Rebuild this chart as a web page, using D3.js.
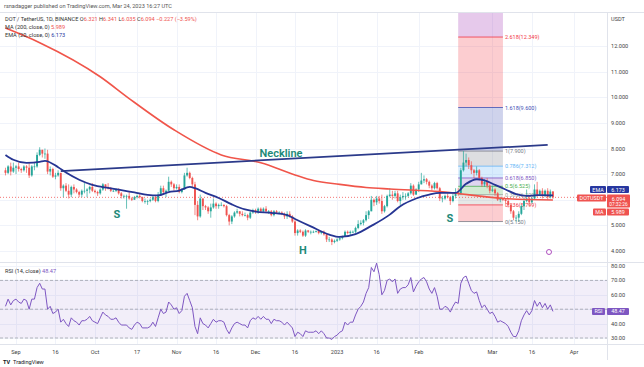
<!DOCTYPE html>
<html><head><meta charset="utf-8">
<script src="https://cdn.jsdelivr.net/npm/d3@7"></script>
<style>body{margin:0;background:#fff;} svg{display:block;font-family:Roboto,"Noto Sans",sans-serif;}</style>
</head><body><svg id="c" width="644" height="367"></svg>
<script>
// ---------------- DATA ----------------
const startDate = "2022-08-28";
const firstOpen = 7.15;
const closes = [7.05,7.30,7.10,7.25,
7.30,7.20,7.15,7.30,7.25,6.95,7.30,7.30,7.75,7.95,7.80,7.80,7.10,7.20,6.90,6.95,7.05,6.45,6.55,6.35,6.20,6.50,6.40,6.30,6.20,6.35,6.35,6.40,6.50,6.35,
6.30,6.25,6.40,6.60,6.50,6.45,6.35,6.35,6.40,6.25,6.15,6.15,6.15,6.05,6.00,6.10,6.15,6.10,5.95,5.95,5.95,6.00,6.10,5.95,6.20,6.45,6.30,6.35,6.70,6.60,6.45,
6.50,6.30,6.40,6.95,7.05,6.85,6.60,5.80,5.35,6.05,5.75,5.70,5.55,5.70,5.85,5.75,5.80,5.80,5.75,5.40,5.15,5.35,5.50,5.55,5.45,5.40,5.40,5.30,5.50,5.60,
5.55,5.65,5.55,5.65,5.55,5.55,5.40,5.55,5.50,5.50,5.45,5.35,5.45,5.35,5.15,4.70,4.80,4.75,4.60,4.80,4.75,4.75,4.75,4.78,4.70,4.75,4.65,4.45,4.45,4.35,4.40,
4.45,4.50,4.55,4.75,4.70,4.75,4.75,4.90,5.05,5.10,5.20,5.40,5.55,6.00,5.90,6.05,5.95,5.55,5.75,6.15,6.20,6.15,6.25,5.95,6.10,6.15,6.15,6.25,6.55,6.20,6.40,
6.60,6.75,6.80,6.70,6.55,6.45,6.65,6.45,6.05,6.05,6.15,6.10,5.95,6.15,6.30,6.25,7.15,7.45,7.55,7.35,7.15,7.05,7.15,6.85,6.60,6.70,6.55,6.35,
6.40,6.25,6.00,6.05,6.00,5.95,5.80,5.55,5.30,5.30,5.45,5.75,5.95,6.05,5.90,6.05,6.40,6.20,6.35,6.15,6.35,6.10,6.321,6.094];
const highs = [7.25,7.35,7.45,7.45,
7.35,7.45,7.25,7.35,7.35,7.45,7.35,7.45,7.85,8.05,7.95,8.00,7.95,7.30,7.25,7.05,7.15,7.05,6.60,6.65,6.60,6.55,6.60,6.45,6.35,6.40,6.65,6.45,6.55,6.65,
6.40,6.35,6.45,6.65,6.60,6.65,6.50,6.40,6.45,6.45,6.30,6.20,6.20,6.30,6.10,6.15,6.20,6.25,6.12,6.05,6.00,6.05,6.15,6.15,6.30,6.55,6.55,6.40,6.90,6.75,6.65,
6.60,6.60,6.45,7.05,7.25,7.10,6.90,6.70,5.95,6.20,6.05,5.80,5.75,5.85,6.05,5.90,5.85,5.90,5.82,5.80,5.45,5.40,5.55,5.65,5.55,5.55,5.50,5.45,5.55,5.65,
5.65,5.70,5.70,5.70,5.75,5.60,5.60,5.60,5.60,5.55,5.55,5.50,5.55,5.55,5.40,5.20,4.85,4.85,4.80,4.85,4.82,4.80,4.80,4.80,4.80,4.78,4.80,4.70,4.55,4.50,4.45,
4.50,4.55,4.60,4.80,4.80,4.80,4.80,4.95,5.20,5.20,5.25,5.55,5.60,6.15,6.05,6.15,6.15,6.20,5.80,6.20,6.45,6.35,6.35,6.35,6.20,6.30,6.25,6.30,6.65,6.60,6.45,
6.70,7.05,6.95,6.85,6.75,6.60,6.70,6.70,6.50,6.15,6.20,6.25,6.15,6.25,6.45,6.45,7.25,7.90,7.80,7.65,7.50,7.20,7.30,7.20,6.90,6.80,6.85,6.60,
6.55,6.45,6.30,6.10,6.10,6.05,6.00,5.85,5.60,5.40,5.55,5.80,6.10,6.40,6.15,6.10,6.60,6.70,6.40,6.45,6.40,6.45,6.40,6.341];
const lows = [6.95,7.00,6.95,7.05,
7.00,7.10,7.05,7.10,7.05,6.85,6.90,7.15,7.25,7.70,7.65,7.60,7.00,6.95,6.85,6.80,6.90,6.35,6.10,6.30,6.05,6.10,6.25,6.25,6.10,6.10,6.25,6.10,6.25,6.30,
6.25,6.15,6.20,6.35,6.35,6.40,6.30,6.30,6.30,6.20,6.05,6.05,5.65,6.00,5.95,6.00,6.05,6.05,5.90,5.85,5.80,5.90,5.95,5.90,5.90,6.15,6.25,6.10,6.35,6.50,6.35,
6.40,6.25,6.25,6.40,6.90,6.80,6.50,5.40,5.20,5.30,5.60,5.60,5.45,5.30,5.65,5.65,5.65,5.75,5.70,5.35,5.00,5.05,5.30,5.45,5.35,5.35,5.35,5.20,5.25,5.45,
5.45,5.45,5.50,5.50,5.50,5.45,5.35,5.35,5.45,5.45,5.40,5.25,5.25,5.30,5.10,4.60,4.60,4.70,4.55,4.55,4.70,4.65,4.70,4.72,4.65,4.65,4.60,4.35,4.35,4.23,4.30,
4.35,4.40,4.45,4.55,4.65,4.60,4.70,4.70,4.85,5.00,5.00,5.15,5.25,5.55,5.75,5.80,5.85,5.45,5.50,5.70,6.10,6.00,6.05,5.90,5.80,6.00,6.00,6.10,6.20,6.15,6.20,
6.30,6.60,6.65,6.60,6.45,6.35,6.40,6.40,5.95,5.90,6.00,6.05,5.80,5.90,6.05,6.15,6.20,7.10,7.30,7.20,7.00,6.85,6.95,6.75,6.50,6.50,6.45,6.25,
6.30,6.15,5.95,5.90,5.95,5.85,5.70,5.45,5.20,5.15,5.15,5.40,5.60,5.90,5.75,5.85,6.00,6.10,6.15,6.05,6.10,6.00,6.05,6.035];
const rsiValues = [52,57,53,56,
57,55,54,57,56,50,57,57,65,68,64,64,50,52,47,48,50,41,43,40,38,44,42,41,39,42,42,43,45,42,
41,40,44,48,46,45,43,43,44,41,39,39,39,37,36,39,41,40,37,37,37,38,41,38,44,50,47,48,55,53,50,
51,47,49,59,61,56,51,38,33,44,40,39,37,40,43,41,42,42,41,36,33,37,40,41,40,39,39,37,42,44,
43,45,43,45,43,43,40,43,42,42,41,39,41,39,37,31,34,33,31,35,34,34,34,35,33,35,33,30,30,29,31,
32,34,35,41,39,41,41,46,50,52,55,61,65,79,76,82,74,60,63,70,71,69,71,61,64,65,65,67,72,62,66,
69,71,72,69,64,61,65,59,50,50,52,51,48,52,55,54,68,72,73,68,63,61,62,56,51,53,50,47,
48,45,41,42,41,40,38,34,31,31,35,42,46,49,46,49,56,52,55,51,54,50,53,48.47];
const emaDates = ["2022-08-28","2022-08-31","2022-09-05","2022-09-10","2022-09-12","2022-09-17","2022-09-20","2022-09-25","2022-09-30","2022-10-06","2022-10-11","2022-10-16","2022-10-21","2022-10-25","2022-10-29","2022-11-02","2022-11-06","2022-11-08","2022-11-12","2022-11-17","2022-11-22","2022-11-27","2022-12-01","2022-12-07","2022-12-13","2022-12-16","2022-12-22","2022-12-29","2023-01-02","2023-01-08","2023-01-14","2023-01-21","2023-01-25","2023-01-31","2023-02-05","2023-02-09","2023-02-15","2023-02-19","2023-02-23","2023-02-26","2023-03-02","2023-03-06","2023-03-10","2023-03-14","2023-03-18","2023-03-24"];
const emaValues = [7.75,7.56,7.44,7.48,7.52,7.27,7.06,6.78,6.58,6.46,6.38,6.29,6.19,6.17,6.30,6.36,6.50,6.45,6.27,6.07,5.82,5.62,5.54,5.49,5.40,5.25,4.96,4.64,4.55,4.66,4.98,5.42,5.75,6.05,6.20,6.27,6.27,6.62,6.80,6.76,6.58,6.40,6.22,6.15,6.18,6.173];
const maDates = ["2022-08-28","2022-09-10","2022-10-03","2022-10-14","2022-10-31","2022-11-18","2022-12-03","2022-12-16","2022-12-23","2023-01-02","2023-01-12","2023-01-21","2023-02-09","2023-03-05","2023-03-24"];
const maValues = [12.70,12.13,10.80,9.95,8.73,7.75,7.44,6.97,6.75,6.60,6.48,6.42,6.32,6.05,5.989];
const necklineDates = ["2022-09-18","2023-03-22"];
const necklineValues = [7.12,8.14];
const timeTickDates = ["2022-09-01","2022-09-16","2022-10-01","2022-10-17","2022-11-01","2022-11-16","2022-12-01","2022-12-16","2023-01-01","2023-01-16","2023-02-01","2023-03-01","2023-03-16","2023-04-01"];
const timeTickLabels = ["Sep","16","Oct","17","Nov","16","Dec","16","2023","16","Feb","Mar","16","Apr"];
const priceTicks = [4,5,6,7,8,9,10,11,12];
const rsiTicks = [30,40,50,60,70,80];
const fibHighPrice = 7.9, fibLowPrice = 5.15;
const fibDates = ["2023-02-16","2023-03-05"];
const fibLevels = [0,0.236,0.382,0.5,0.618,0.786,1,1.618,2.618,3.618];
const fibColors = ["#787b86","#f23645","#9aa59a","#4caf50","#7e57c2","#64b5f6","#787b86","#3f51b5","#f23645","#9c27b0"];
const lastPrice = 6.094, lastEma = 6.173, lastMa = 5.989, lastRsi = 48.47;

// ---------------- CHART ----------------
const svg = d3.select("#c");
const parse = d3.utcParse("%Y-%m-%d");
const AX = 607, PTOP = 13, PBOT = 262, RBOT = 344;
const x = d3.scaleUtc().domain([parse("2022-09-01"), parse("2023-04-01")]).range([16, 574]);
const y = d3.scaleLinear().domain([4, 12]).range([251, 46]);
const yr = d3.scaleLinear().domain([30, 80]).range([338, 266]);
const up = "#26a69a", dn = "#ef5350";

const candles = closes.map((c, i) => {
  const date = d3.utcDay.offset(parse(startDate), i);
  const o = i === 0 ? firstOpen : closes[i - 1];
  return {date, o, c, h: Math.max(highs[i], o, c), l: Math.min(lows[i], o, c)};
});

const defs = svg.append("defs");
defs.append("clipPath").attr("id", "pc").append("rect").attr("x", 0).attr("y", PTOP).attr("width", AX).attr("height", PBOT - PTOP);
defs.append("clipPath").attr("id", "rc").append("rect").attr("x", 0).attr("y", PBOT).attr("width", AX).attr("height", RBOT - PBOT);

// grid
const grid = svg.append("g").attr("stroke", "#f0f3fa").attr("stroke-width", 1);
timeTickDates.forEach(d => { const xx = Math.round(x(parse(d))) + 0.5; grid.append("line").attr("x1", xx).attr("x2", xx).attr("y1", PTOP).attr("y2", RBOT); });
priceTicks.forEach(p => { const yy = Math.round(y(p)) + 0.5; grid.append("line").attr("x1", 0).attr("x2", AX).attr("y1", yy).attr("y2", yy); });
rsiTicks.forEach(p => { const yy = Math.round(yr(p)) + 0.5; grid.append("line").attr("x1", 0).attr("x2", AX).attr("y1", yy).attr("y2", yy); });

// pane borders
svg.append("line").attr("x1", 0).attr("x2", 644).attr("y1", PTOP - 0.5).attr("y2", PTOP - 0.5).attr("stroke", "#e0e3eb");
svg.append("line").attr("x1", 0).attr("x2", 644).attr("y1", PBOT + 0.5).attr("y2", PBOT + 0.5).attr("stroke", "#e0e3eb");
svg.append("line").attr("x1", 0).attr("x2", 644).attr("y1", RBOT + 0.5).attr("y2", RBOT + 0.5).attr("stroke", "#e0e3eb");
svg.append("line").attr("x1", AX + 0.5).attr("x2", AX + 0.5).attr("y1", PTOP).attr("y2", 360).attr("stroke", "#e0e3eb");

const pane = svg.append("g").attr("clip-path", "url(#pc)");

// fib
const fx0 = x(parse(fibDates[0])), fx1 = x(parse(fibDates[1]));
const fibPrice = l => fibLowPrice + l * (fibHighPrice - fibLowPrice);
for (let i = 0; i < fibLevels.length - 1; i++) {
  const ya = y(fibPrice(fibLevels[i])), yb = y(fibPrice(fibLevels[i + 1]));
  pane.append("rect").attr("x", fx0).attr("width", fx1 - fx0).attr("y", yb).attr("height", ya - yb)
    .attr("fill", fibColors[i + 1]).attr("fill-opacity", 0.25);
}
fibLevels.forEach((l, i) => {
  const yy = y(fibPrice(l));
  if (yy < PTOP + 4) return;
  pane.append("line").attr("x1", fx0).attr("x2", fx1).attr("y1", yy).attr("y2", yy).attr("stroke", fibColors[i]).attr("stroke-width", 0.8);
  pane.append("text").attr("x", fx1 + 2).attr("y", yy + 2).attr("font-size", 5.5).attr("fill", fibColors[i])
    .text(`${l}(${fibPrice(l).toFixed(3)})`);
});

// current price dotted
pane.append("line").attr("x1", 0).attr("x2", AX).attr("y1", y(lastPrice)).attr("y2", y(lastPrice))
  .attr("stroke", dn).attr("stroke-width", 0.8).attr("stroke-dasharray", "1,2");

// candles
const cw = 1.9;
const cg = pane.append("g");
cg.selectAll("line.w").data(candles).join("line")
  .attr("x1", d => x(d.date)).attr("x2", d => x(d.date)).attr("y1", d => y(d.h)).attr("y2", d => y(d.l))
  .attr("stroke", d => d.c >= d.o ? up : dn).attr("stroke-width", 0.7);
cg.selectAll("rect").data(candles).join("rect")
  .attr("x", d => x(d.date) - cw / 2).attr("width", cw)
  .attr("y", d => y(Math.max(d.o, d.c))).attr("height", d => Math.max(0.7, Math.abs(y(d.o) - y(d.c))))
  .attr("fill", d => d.c >= d.o ? up : dn);

// MA, EMA
const line = d3.line().x(d => x(d[0])).y(d => y(d[1])).curve(d3.curveMonotoneX);
pane.append("path").attr("d", line(maDates.map((d, i) => [parse(d), maValues[i]])))
  .attr("fill", "none").attr("stroke", "#f0554a").attr("stroke-width", 1.6);
pane.append("path").attr("d", line(emaDates.map((d, i) => [parse(d), emaValues[i]])))
  .attr("fill", "none").attr("stroke", "#263593").attr("stroke-width", 1.8);

// neckline
pane.append("line").attr("x1", x(parse(necklineDates[0]))).attr("y1", y(necklineValues[0]))
  .attr("x2", x(parse(necklineDates[1]))).attr("y2", y(necklineValues[1]))
  .attr("stroke", "#2b3a8a").attr("stroke-width", 1.8);

// annotations
const teal = "#1e8a78";
pane.append("text").attr("x", 281).attr("y", 157).attr("text-anchor", "middle").attr("font-size", 11).attr("font-weight", 600).attr("fill", teal).text("Neckline");
pane.append("text").attr("x", 117).attr("y", 218).attr("text-anchor", "middle").attr("font-size", 11).attr("font-weight", 700).attr("fill", teal).text("S");
pane.append("text").attr("x", 303).attr("y", 254).attr("text-anchor", "middle").attr("font-size", 11).attr("font-weight", 700).attr("fill", teal).text("H");
pane.append("text").attr("x", 450).attr("y", 222).attr("text-anchor", "middle").attr("font-size", 11).attr("font-weight", 700).attr("fill", teal).text("S");
pane.append("circle").attr("cx", 549).attr("cy", 252).attr("r", 2.5).attr("fill", "#fff").attr("stroke", "#9c27b0").attr("stroke-width", 0.8);

// legend
const lg = svg.append("g").attr("font-size", 5.6);
lg.append("text").attr("x", 4).attr("y", 8).attr("fill", "#555").text("rsnadagger published on TradingView.com, Mar 24, 2023 16:27 UTC");
const l2 = lg.append("text").attr("x", 5).attr("y", 21).attr("fill", "#333");
l2.append("tspan").text("DOT / TetherUS, 1D, BINANCE  ");
[["O","6.321"],["H","6.341"],["L","6.035"],["C","6.094"]].forEach(([k,v]) => { l2.append("tspan").text(k); l2.append("tspan").attr("fill", dn).text(v + " "); });
l2.append("tspan").attr("fill", dn).text("−0.227 (−3.59%)");
const l3 = lg.append("text").attr("x", 5).attr("y", 29).attr("fill", "#333");
l3.append("tspan").text("MA (200, close, 0) "); l3.append("tspan").attr("fill", dn).text(lastMa.toFixed(3));
const l4 = lg.append("text").attr("x", 5).attr("y", 37).attr("fill", "#333");
l4.append("tspan").text("EMA (20, close, 0) "); l4.append("tspan").attr("fill", "#2838a0").text(lastEma.toFixed(3));

// RSI pane
const rp = svg.append("g").attr("clip-path", "url(#rc)");
rp.append("rect").attr("x", 0).attr("width", AX).attr("y", yr(70)).attr("height", yr(30) - yr(70)).attr("fill", "#7e57c2").attr("fill-opacity", 0.1);
[70, 50, 30].forEach(v => rp.append("line").attr("x1", 0).attr("x2", AX).attr("y1", yr(v)).attr("y2", yr(v))
  .attr("stroke", "#9598a1").attr("stroke-width", 0.7).attr("stroke-dasharray", "3,2"));
const rline = d3.line().x((d, i) => x(candles[i].date)).y(d => yr(d));
rp.append("path").attr("d", rline(rsiValues)).attr("fill", "none").attr("stroke", "#7e57c2").attr("stroke-width", 1);
const rl = svg.append("text").attr("x", 5).attr("y", 273).attr("font-size", 5.6).attr("fill", "#333");
rl.append("tspan").text("RSI (14, close) "); rl.append("tspan").attr("fill", "#7e57c2").text(lastRsi.toFixed(2));

// price axis (ticks hidden under last-value tags are skipped)
const pa = svg.append("g").attr("font-size", 5.6).attr("fill", "#444");
pa.append("text").attr("x", 611).attr("y", 21).text("USDT");
priceTicks.filter(p => Math.abs(y(p) - 200) > 14).forEach(p => pa.append("text").attr("x", 611).attr("y", y(p) + 2).text(p.toFixed(3)));
rsiTicks.filter(p => Math.abs(yr(p) - yr(lastRsi)) > 6).forEach(p => pa.append("text").attr("x", 611).attr("y", yr(p) + 2).text(p.toFixed(2)));

// axis labels (tags)
function tag(xl, w, yc, h, fill, txt) {
  svg.append("rect").attr("x", xl).attr("y", yc - h / 2).attr("width", w).attr("height", h).attr("rx", 1).attr("fill", fill);
  if (txt) svg.append("text").attr("x", xl + w / 2).attr("y", yc + 2).attr("text-anchor", "middle").attr("font-size", 5.4).attr("fill", "#fff").text(txt);
}
tag(590, 16, 189.5, 7, "#2838a0", "EMA"); tag(607, 22, 189.5, 7, "#2838a0", lastEma.toFixed(3));
tag(577, 29, 198, 7, dn, "DOTUSDT");
svg.append("rect").attr("x", 607).attr("y", 194.5).attr("width", 23).attr("height", 13).attr("rx", 1).attr("fill", dn);
svg.append("text").attr("x", 618.5).attr("y", 200.5).attr("text-anchor", "middle").attr("font-size", 5.4).attr("fill", "#fff").text(lastPrice.toFixed(3));
svg.append("text").attr("x", 618.5).attr("y", 206).attr("text-anchor", "middle").attr("font-size", 4.8).attr("fill", "#fff").text("07:32:26");
tag(593, 13, 212, 7, dn, "MA"); tag(607, 22, 212, 7, dn, lastMa.toFixed(3));
tag(592, 13, yr(lastRsi), 7, "#7e57c2", "RSI"); tag(607, 22, yr(lastRsi), 7, "#7e57c2", lastRsi.toFixed(2));

// time axis
const ta = svg.append("g").attr("font-size", 5.6).attr("fill", "#444");
timeTickDates.forEach((d, i) => ta.append("text").attr("x", x(parse(d))).attr("y", 354).attr("text-anchor", "middle").text(timeTickLabels[i]));
svg.append("text").attr("x", 3).attr("y", 364).attr("font-size", 5.6).attr("font-weight", 700).attr("fill", "#131722").text("TV")
svg.append("text").attr("x", 13).attr("y", 364).attr("font-size", 5.6).attr("fill", "#131722").text("TradingView");
</script></body></html>
